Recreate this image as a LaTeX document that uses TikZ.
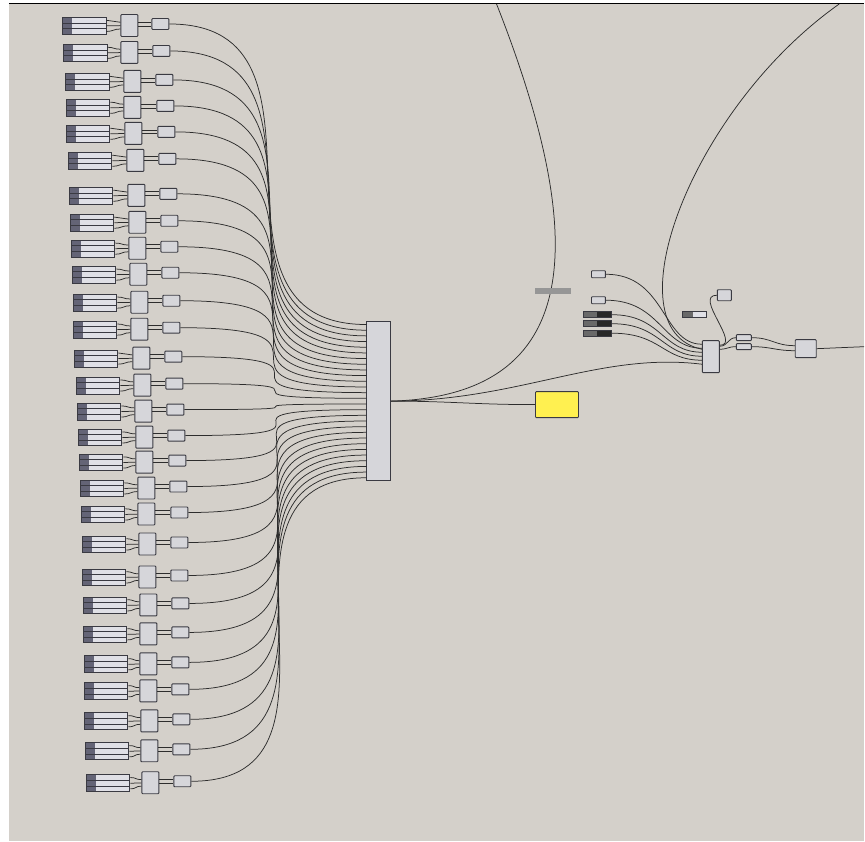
\documentclass[tikz,border=0pt]{standalone}
\usetikzlibrary{calc}
\definecolor{canvas}{RGB}{212,208,202}
\definecolor{wire}{RGB}{45,45,45}
\definecolor{compfill}{RGB}{214,214,218}
\definecolor{edge}{RGB}{58,58,66}
\definecolor{grip}{RGB}{100,100,118}
\definecolor{barfill}{RGB}{224,224,230}
\definecolor{panelyellow}{RGB}{255,240,80}
\definecolor{gbar}{RGB}{150,150,150}
\definecolor{darkbar}{RGB}{40,40,40}
\definecolor{darkgrip}{RGB}{105,105,105}
\tikzset{
  comp/.style={draw=edge, fill=compfill, line width=0.9pt, minimum width=17pt, minimum height=22pt, inner sep=0pt, rounded corners=0.8pt},
  param/.style={draw=edge, fill=compfill, line width=0.9pt, minimum width=17pt, minimum height=11pt, inner sep=0pt, rounded corners=0.8pt},
  sbar/.style={draw=edge, fill=barfill, line width=0.8pt, minimum width=44pt, minimum height=5.6pt, inner sep=0pt,
    path picture={\fill[grip] (path picture bounding box.south west) rectangle ([xshift=10pt]path picture bounding box.north west);}},
  dbar/.style={draw=edge, fill=darkbar, line width=0.7pt, minimum width=28pt, minimum height=6pt, inner sep=0pt,
    path picture={\fill[darkgrip] (path picture bounding box.south west) rectangle ([xshift=14pt]path picture bounding box.north west);}},
  lbar/.style={draw=edge, fill=barfill, line width=0.7pt, minimum width=24pt, minimum height=6pt, inner sep=0pt,
    path picture={\fill[darkgrip] (path picture bounding box.south west) rectangle ([xshift=11pt]path picture bounding box.north west);}},
  gwire/.style={draw=wire, line width=0.75pt},
  small/.style={draw=edge, fill=compfill, line width=0.9pt, minimum width=14pt, minimum height=7pt, inner sep=0pt, rounded corners=0.8pt},
}
\begin{document}
\begin{tikzpicture}[x=1pt,y=-1pt]
\fill[white] (0,0) rectangle (865,842);
\fill[canvas] (9,4) rectangle (865,842);
\draw[black, line width=1.6pt] (9,3.6) -- (865,3.6);
\useasboundingbox (0,0) rectangle (865,842);

% merge component
\node[draw=edge, fill=compfill, line width=0.9pt, minimum width=24pt, minimum height=159pt, inner sep=0pt] (M) at (379,401.5) {};

\foreach \i/\y/\sx/\cx/\kx in {
 1/24/62/121/152, 2/51/63/121/153, 3/80/65/124/156, 4/106/66/124/157,
 5/132/66/125/158, 6/159/68/127/159, 7/194/69/128/160, 8/221/70/129/161,
 9/247/71/129/161, 10/273/72/130/162, 11/301/73/131/163, 12/328/73/131/163,
 13/357/74/133/165, 14/384/76/134/166, 15/410/77/135/167, 16/436/78/136/168,
 17/461/79/136/169, 18/487/80/138/170, 19/513/81/138/171, 20/543/82/139/171,
 21/576/82/139/171, 22/604/83/140/172, 23/633/83/140/172, 24/663/84/140/172,
 25/690/84/140/172, 26/720/84/141/173, 27/750/85/141/173, 28/782/86/142/174}
{
  \node[comp] (c\i) at (\cx+8.5,\y+1.5) {};
  \node[param] (k\i) at (\kx+8.5,\y) {};
  \foreach \k/\dy in {1/-3.7,2/1.9,3/7.5} {
    \node[sbar] (b\i-\k) at (\sx+22,\y+\dy) {};
    \draw[gwire] (b\i-\k.east) .. controls +(7,0) and +(-7,0) .. ($(c\i.west)+(0,\dy*0.6-1)$);
  }
  \draw[gwire] ($(c\i.east)+(0,-3.5)$) -- ($(k\i.west)+(0,-2)$);
  \draw[gwire] ($(c\i.east)+(0,0.5)$) -- ($(k\i.west)+(0,2)$);
  \coordinate (in\i) at (367,{322+5.68*(\i-0.5)});
  \draw[gwire] (k\i.east) .. controls +(185,0) and +(-185,0) .. (in\i);
}

% yellow panel
\node[draw=edge, fill=panelyellow, line width=0.9pt, minimum width=43pt, minimum height=26pt, inner sep=0pt, rounded corners=0.8pt] (P) at (557.5,405) {};
\draw[gwire] (M.east) .. controls +(60,0) and +(-60,0) .. (P.west);

% long wire to top
\coordinate (topA) at (497,4);
\draw[gwire] (M.east) .. controls (585,396) and (590,240) .. (topA);

% right cluster
\node[fill=gbar, minimum width=37pt, minimum height=6pt, inner sep=0pt] (G) at (553.5,291) {};
\node[small] (R1) at (599,274.5) {};
\node[small] (R2) at (599,300.5) {};
\node[dbar] (D1) at (598,315) {};
\node[dbar] (D2) at (598,324) {};
\node[dbar] (D3) at (598,333.5) {};
\node[lbar] (E) at (695,315) {};
\node[comp, minimum height=32pt] (Q) at (711.5,357) {};
\node[param, minimum width=14pt] (T) at (725,295.5) {};
\node[small, minimum width=15pt, minimum height=6pt] (U1) at (744.5,338) {};
\node[small, minimum width=15pt, minimum height=6pt] (U2) at (744.5,347) {};
\node[comp, minimum width=21pt, minimum height=18pt] (V) at (806.5,349) {};
\coordinate (rightEnd) at (865,347);
\coordinate (topB) at (840,4);

\draw[gwire] (R1.east) .. controls +(60,0) and +(-40,0) .. ($(Q.north west)+(0,4)$);
\draw[gwire] (R2.east) .. controls +(55,0) and +(-40,0) .. ($(Q.north west)+(0,8)$);
\draw[gwire] (D1.east) .. controls +(50,0) and +(-40,0) .. ($(Q.north west)+(0,12)$);
\draw[gwire] (D2.east) .. controls +(50,0) and +(-40,0) .. ($(Q.north west)+(0,16)$);
\draw[gwire] (D3.east) .. controls +(50,0) and +(-40,0) .. ($(Q.north west)+(0,20)$);
\draw[gwire] (M.east) .. controls (520,401) and (600,352) .. ($(Q.north west)+(0,24)$);
\draw[gwire] (topB) .. controls (690,110) and (610,330) .. ($(Q.north west)+(0,9)$);

\draw[gwire] ($(Q.north east)+(0,5)$) .. controls +(22,0) and +(-24,0) .. (T.west);
\draw[gwire] ($(Q.north east)+(0,6)$) .. controls +(8,0) and +(-8,0) .. (U1.west);
\draw[gwire] ($(Q.north east)+(0,9)$) .. controls +(8,0) and +(-8,0) .. (U2.west);
\draw[gwire] (U1.east) .. controls +(20,0) and +(-20,0) .. ($(V.west)+(0,-3)$);
\draw[gwire] (U2.east) .. controls +(20,0) and +(-20,0) .. ($(V.west)+(0,2)$);
\draw[gwire] (V.east) -- (rightEnd);
\end{tikzpicture}
\end{document}
